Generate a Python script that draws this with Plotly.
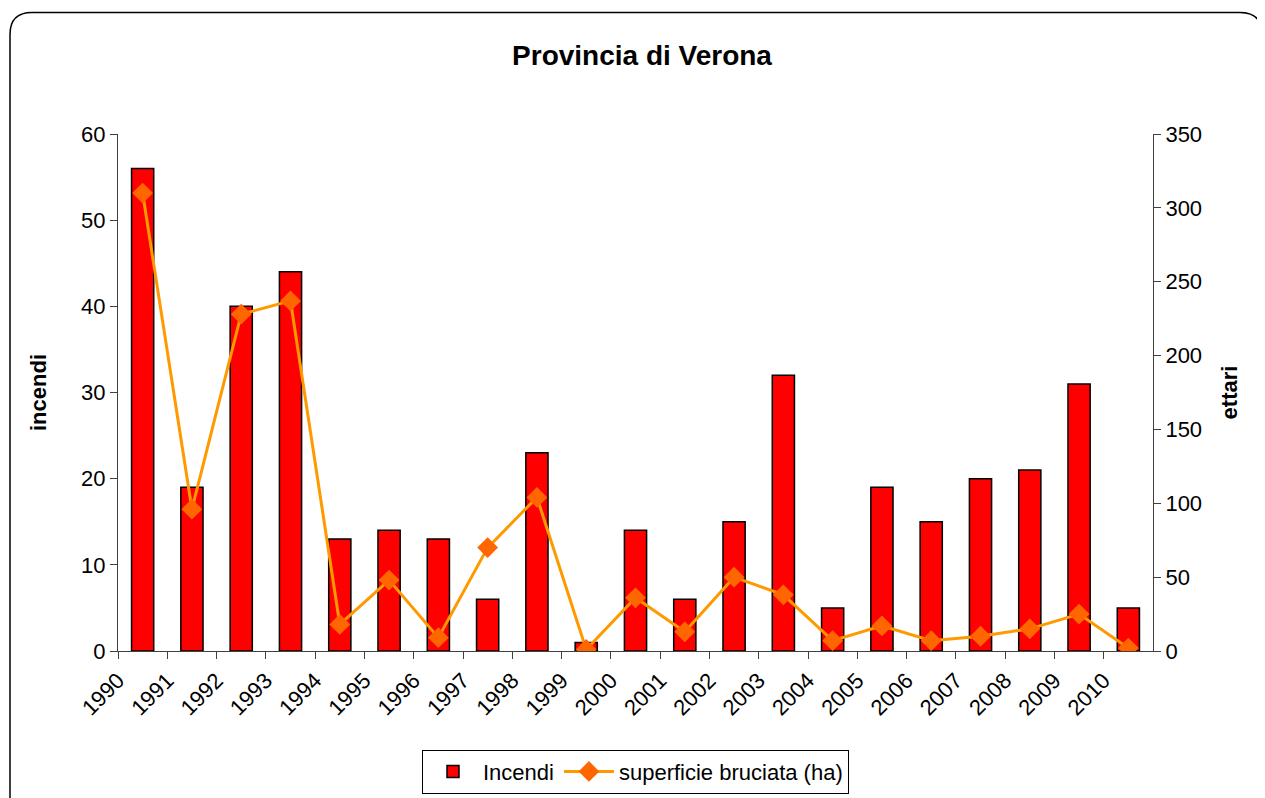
import plotly.graph_objects as go

# data
anni = [str(y) for y in range(1990, 2011)]
incendi = [56, 19, 40, 44, 13, 14, 13, 6, 23, 1, 14, 6, 15, 32, 5, 19, 15, 20, 21, 31, 5]
ettari = [310, 96, 228, 237, 18, 48, 9, 70, 104, 1, 36, 13, 50, 38, 7, 17, 7, 10, 15, 25, 2]
left_ticks = [0, 10, 20, 30, 40, 50, 60]
right_ticks = [0, 50, 100, 150, 200, 250, 300, 350]

FONT = "Liberation Sans, Arial, sans-serif"
W, H = 1265, 798
OFF = 8  # page body margin
L, R, T, B = 118 - OFF, 1153 - OFF, 134 - OFF, 653 - OFF  # plot area in figure pixels

# bars sit between the ticks, year labels sit on the ticks (Excel style)
xpos = [i + 0.5 for i in range(len(anni))]

fig = go.Figure()
fig.add_trace(go.Bar(
    x=xpos, y=incendi, name="Incendi", width=0.45,
    marker=dict(color="#FF0000", line=dict(color="black", width=1.5)),
))
fig.add_trace(go.Scatter(
    x=xpos, y=ettari, name="superficie bruciata (ha)", yaxis="y2",
    mode="lines+markers",
    line=dict(color="#FF9900", width=3),
    marker=dict(symbol="diamond", size=16, color="#FF6600"),
))


def px(x):
    return (x - L) / (R - L)


def py(y):
    return (B - y) / (B - T)


# rounded outer frame (runs off the right and bottom edges)
r = 22
x0, y0, x1, y1 = 10 - OFF, 12 - OFF, 1262 - OFF, 820
path = (
    f"M {px(x0)},{py(y1)} L {px(x0)},{py(y0 + r)} "
    f"Q {px(x0)},{py(y0)} {px(x0 + r)},{py(y0)} "
    f"L {px(x1 - r)},{py(y0)} Q {px(x1)},{py(y0)} {px(x1)},{py(y0 + r)} "
    f"L {px(x1)},{py(y1)}"
)

fig.update_layout(
    width=W, height=H,
    margin=dict(l=L, r=W - R, t=T, b=H - B),
    paper_bgcolor="white", plot_bgcolor="white",
    font=dict(family=FONT, size=22, color="black"),
    title=dict(text="<b>Provincia di Verona</b>", x=(642 - OFF) / W, xanchor="center",
               y=1 - (55 - OFF) / H, yanchor="middle", font=dict(size=28)),
    xaxis=dict(
        range=[0, len(anni)], tickvals=list(range(len(anni))), ticktext=anni,
        tickangle=-45, ticks="outside", ticklen=7, tickcolor="#404040",
        showline=True, linecolor="#404040", linewidth=1,
        showgrid=False, zeroline=False,
    ),
    yaxis=dict(
        title=dict(text="<b>incendi</b>", standoff=28, font=dict(size=22)),
        range=[0, 60], tickvals=left_ticks, ticks="outside", ticklen=7,
        tickcolor="#404040", showline=True, linecolor="#404040",
        showgrid=False, zeroline=False,
    ),
    yaxis2=dict(
        title=dict(text="<b>ettari</b>", standoff=20, font=dict(size=22)),
        overlaying="y", side="right", range=[0, 350], tickvals=right_ticks,
        ticks="outside", ticklen=7, tickcolor="#404040",
        showline=True, linecolor="#404040", showgrid=False, zeroline=False,
    ),
    legend=dict(
        orientation="h", x=0.5, xanchor="center", y=(653 - 752) / (653 - 134),
        yanchor="top", bordercolor="black", borderwidth=1,
        font=dict(size=22), traceorder="normal", itemwidth=50,
    ),
    showlegend=True,
    shapes=[dict(type="path", path=path, xref="paper", yref="paper",
                 line=dict(color="black", width=1.5), layer="above")],
)

fig.write_html("out.html")
